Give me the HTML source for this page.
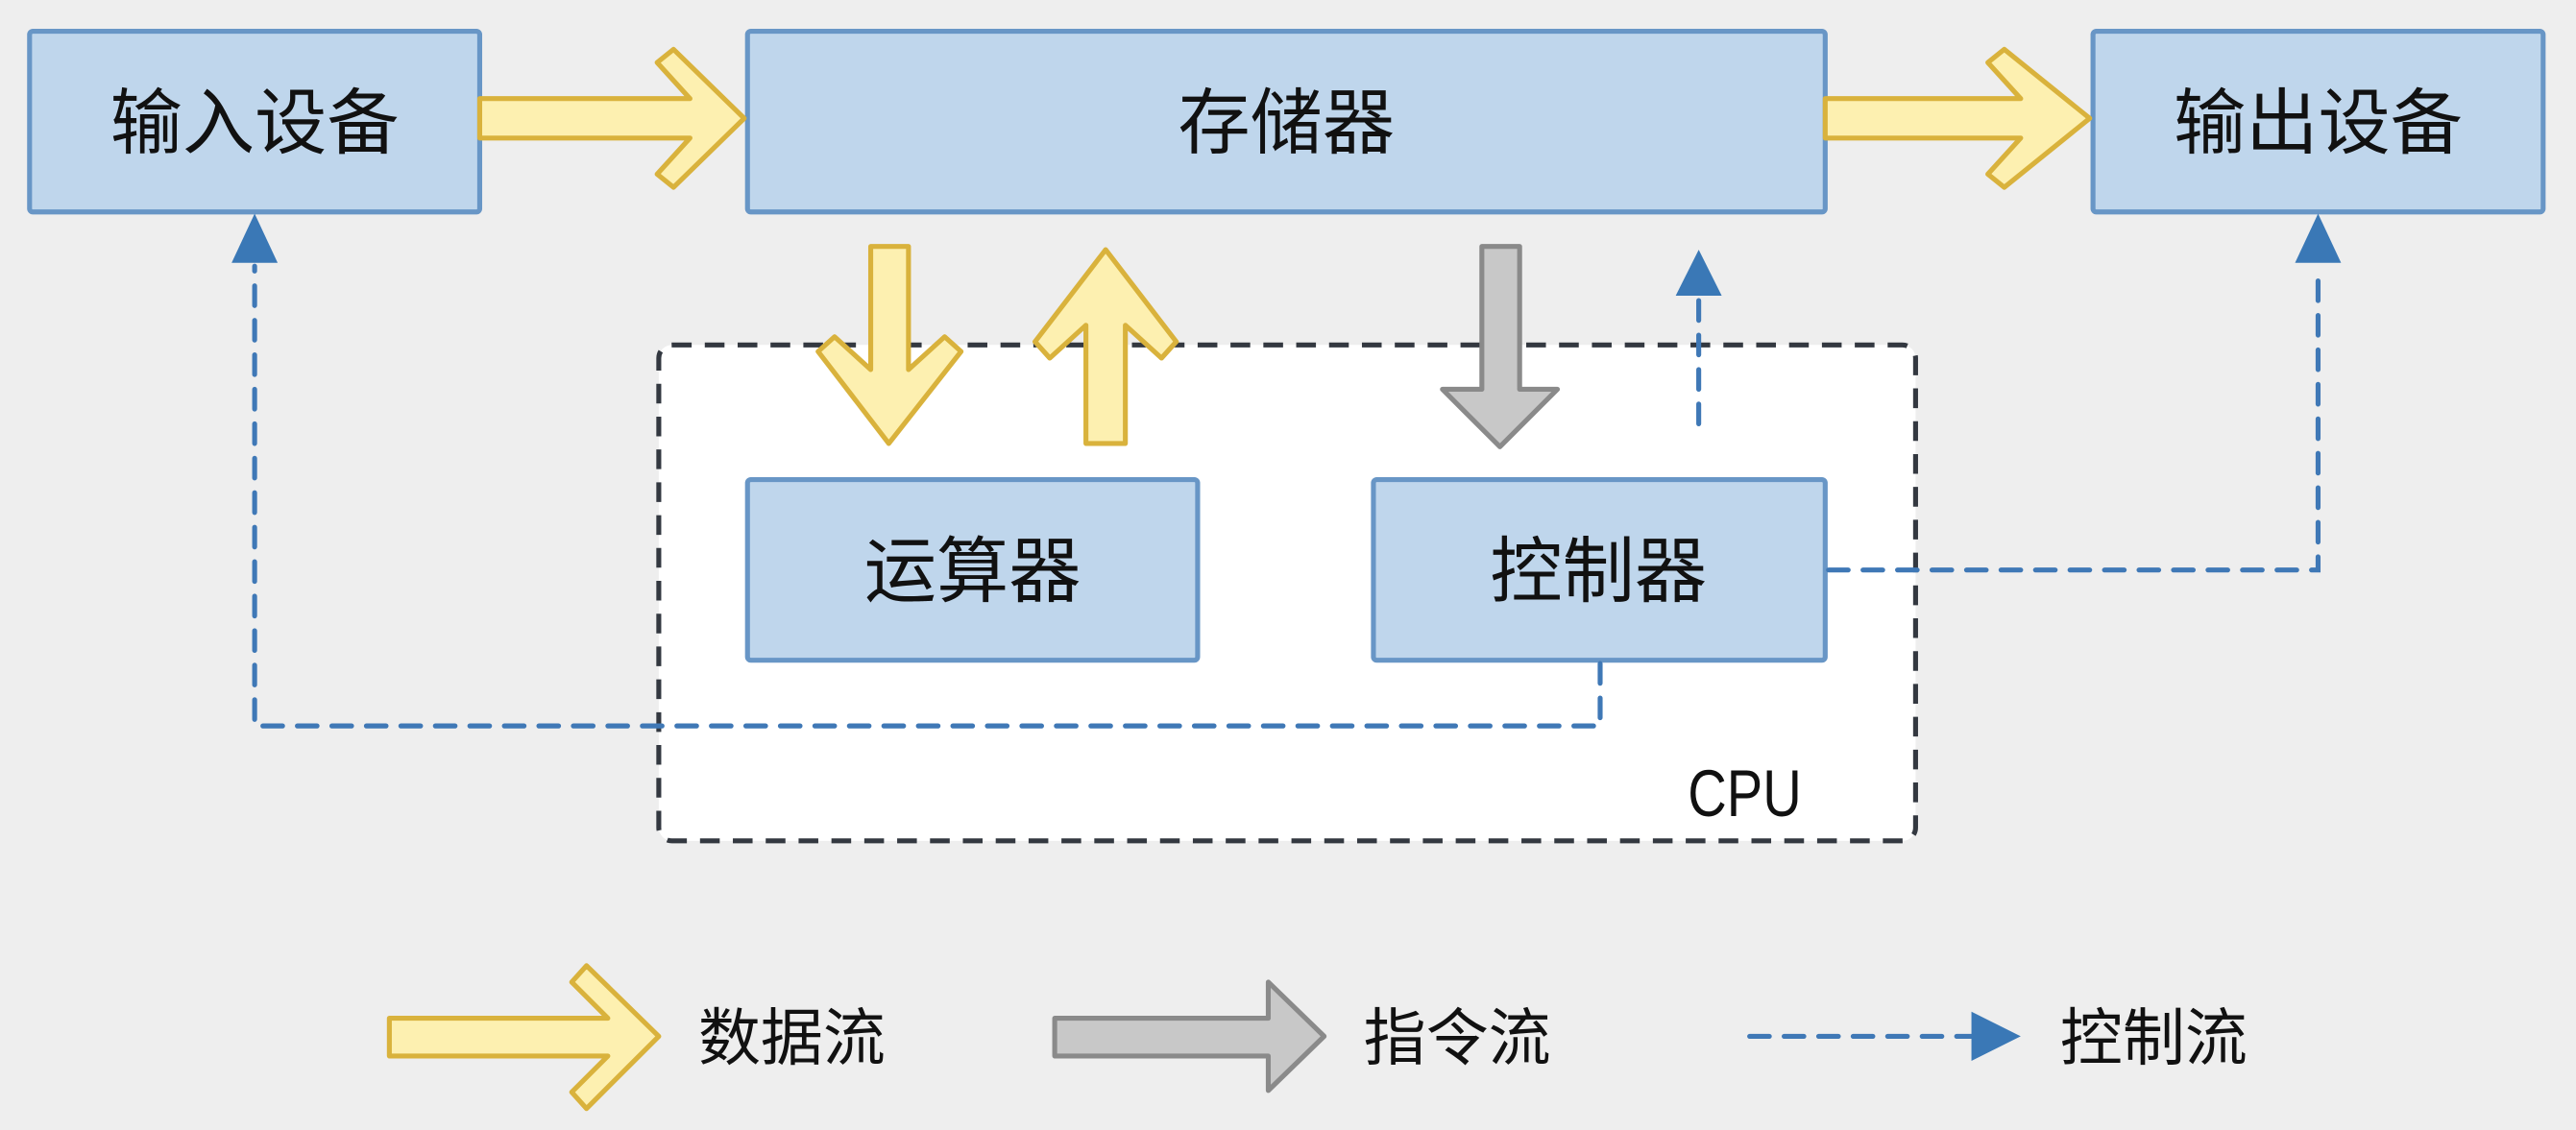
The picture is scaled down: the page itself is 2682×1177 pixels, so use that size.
<!DOCTYPE html>
<html><head><meta charset="utf-8"><style>
html,body{margin:0;padding:0;background:#eeeeee;}
svg{display:block}
text{font-family:"Liberation Sans","Noto Sans CJK SC",sans-serif;fill:#111;}
</style></head><body>
<svg width="2682" height="1177" viewBox="0 0 1568 688" xmlns="http://www.w3.org/2000/svg">
<rect width="1568" height="688" fill="#eeeeee"/>
<rect x="401" y="210" width="765" height="302" rx="8" fill="#ffffff" stroke="#333840" stroke-width="3" stroke-dasharray="12 8"/>
<g fill="#bfd6ec" stroke="#6896c6" stroke-width="3">
<rect x="18" y="19" width="274" height="110" rx="2"/>
<rect x="455" y="19" width="656" height="110" rx="2"/>
<rect x="1274" y="19" width="274" height="110" rx="2"/>
<rect x="455" y="292" width="274" height="110" rx="2"/>
<rect x="836" y="292" width="275" height="110" rx="2"/>
</g>
<g font-size="44" text-anchor="middle">
<text x="155" y="90">输入设备</text>
<text x="783" y="90">存储器</text>
<text x="1411" y="90">输出设备</text>
<text x="592" y="363">运算器</text>
<text x="973" y="363">控制器</text>
</g>
<text x="0" y="0" font-size="40" text-anchor="middle" transform="translate(1062,497) scale(0.82,1)">CPU</text>
<g fill="#fdf0b0" stroke="#d9b23c" stroke-width="3" stroke-linejoin="round">
<polygon points="292,60 420,60 400,38 410,30 453,72 410,114 400,106 420,84 292,84"/>
<polygon points="1111,60 1230,60 1210,38 1220,30 1272,72 1220,114 1210,106 1230,84 1111,84"/>
<polygon points="530,150 553,150 553,225 575,205 585,214 541,270 498,214 508,205 530,225"/>
<polygon points="661,270 685,270 685,198 707,218 716,208 673,152 630,208 639,218 661,198"/>
<polygon points="237,620 370,620 348,598 357,588 401,631 357,675 348,665 370,643 237,643"/>
</g>
<g fill="#c8c8c8" stroke="#8a8a8a" stroke-width="3" stroke-linejoin="round">
<polygon points="902,150 925,150 925,237 948,237 913,272 878,237 902,237"/>
<polygon points="642,620 772,620 772,598 806,631 772,664 772,643 642,643"/>
</g>
<g fill="none" stroke="#3f78b6" stroke-width="3" stroke-dasharray="12 9" stroke-linecap="round">
<polyline points="974,404 974,442 155,442 155,162"/>
<polyline points="1113,347 1411,347 1411,162"/>
<polyline points="1034,258 1034,182"/>
<polyline points="1065,631 1200,631"/>
</g>
<g fill="#3a78b6">
<polygon points="141,160 169,160 155,130"/>
<polygon points="1397,160 1425,160 1411,130"/>
<polygon points="1020,180 1048,180 1034,152"/>
<polygon points="1200,616 1230,631 1200,646"/>
</g>
<g font-size="38">
<text x="425" y="645">数据流</text>
<text x="830" y="645">指令流</text>
<text x="1254" y="645">控制流</text>
</g>
</svg>
</body></html>
